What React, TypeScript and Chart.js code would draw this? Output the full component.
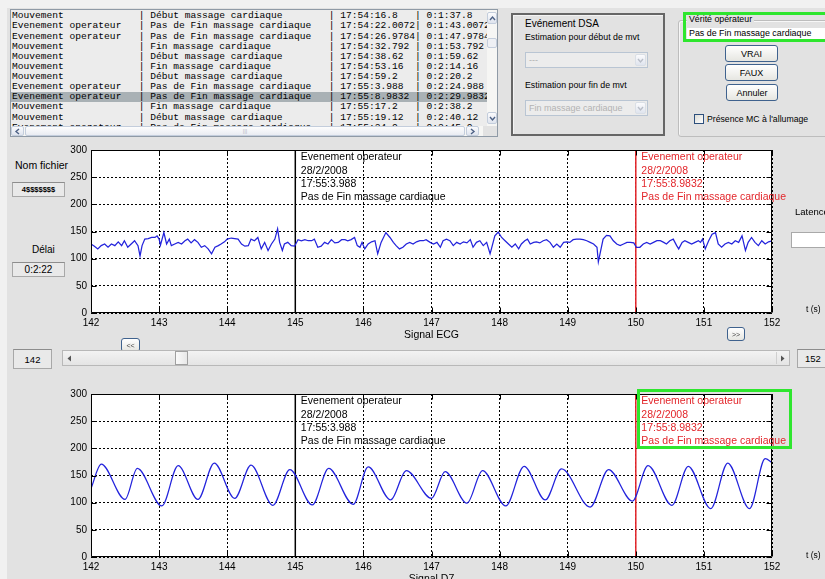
import React, { useEffect, useRef } from 'react';
import { Chart, registerables } from 'chart.js';

Chart.register(...registerables);

// ---------------- data ----------------
const ecgTimes = [
  142.0, 142.05, 142.1, 142.15, 142.2, 142.25, 142.3, 142.35, 142.4, 142.45, 142.49, 142.54, 142.59, 142.64, 142.69,
  142.72, 142.75, 142.79, 142.84, 142.89, 142.94, 142.97, 143.0, 143.02, 143.07, 143.11, 143.15, 143.18, 143.23,
  143.28, 143.33, 143.38, 143.42, 143.47, 143.52, 143.57, 143.62, 143.67, 143.72, 143.77, 143.82, 143.87, 143.91,
  143.96, 144.0, 144.06, 144.11, 144.16, 144.21, 144.26, 144.31, 144.35, 144.4, 144.45, 144.5, 144.55, 144.6, 144.65,
  144.7, 144.74, 144.77, 144.81, 144.84, 144.89, 144.94, 144.99, 145.04, 145.09, 145.14, 145.19, 145.24, 145.28,
  145.33, 145.38, 145.43, 145.48, 145.53, 145.58, 145.63, 145.68, 145.73, 145.77, 145.82, 145.87, 145.91, 145.95,
  145.98, 146.02, 146.07, 146.12, 146.17, 146.21, 146.26, 146.33, 146.39, 146.44, 146.48, 146.53, 146.58, 146.63,
  146.68, 146.73, 146.78, 146.83, 146.88, 146.92, 146.98, 147.03, 147.08, 147.13, 147.17, 147.22, 147.27, 147.32,
  147.37, 147.42, 147.47, 147.52, 147.57, 147.61, 147.66, 147.71, 147.76, 147.81, 147.86, 147.88, 147.93, 147.98,
  148.03, 148.08, 148.13, 148.18, 148.23, 148.28, 148.32, 148.37, 148.41, 148.45, 148.5, 148.54, 148.59, 148.64,
  148.69, 148.74, 148.79, 148.84, 148.89, 148.94, 148.99, 149.03, 149.08, 149.13, 149.18, 149.23, 149.28, 149.33,
  149.38, 149.43, 149.45, 149.48, 149.52, 149.57, 149.62, 149.67, 149.72, 149.77, 149.82, 149.87, 149.92, 149.97,
  150.01, 150.06, 150.11, 150.16, 150.21, 150.26, 150.31, 150.36, 150.41, 150.45, 150.5, 150.55, 150.6, 150.63,
  150.68, 150.72, 150.77, 150.82, 150.87, 150.92, 150.95, 150.98, 151.02, 151.07, 151.12, 151.17, 151.21, 151.26,
  151.31, 151.36, 151.41, 151.46, 151.51, 151.56, 151.61, 151.65, 151.7, 151.75, 151.8, 151.85, 151.9, 151.95, 152.0,
];
const ecgValues = [
  127, 123, 118, 124, 127, 121, 127, 124, 131, 124, 133, 121, 127, 133, 124,
  105, 124, 136, 137, 139, 139, 142, 136, 125, 148, 127, 136, 124, 127,
  130, 127, 133, 136, 129, 135, 130, 121, 124, 118, 109, 121, 124, 127,
  131, 136, 138, 137, 136, 127, 123, 124, 136, 133, 139, 118, 130, 115, 127,
  136, 155, 130, 115, 127, 130, 124, 123, 135, 133, 135, 133, 133, 136,
  121, 123, 130, 127, 135, 129, 130, 135, 135, 133, 135, 139, 124, 121,
  130, 118, 127, 131, 133, 109, 130, 148, 139, 130, 124, 118, 121, 127,
  130, 127, 131, 133, 133, 135, 130, 127, 130, 121, 133, 136, 133, 124,
  130, 127, 131, 129, 135, 121, 130, 133, 124, 130, 109, 118, 142, 149,
  139, 133, 127, 121, 127, 118, 127, 133, 136, 127, 130, 131, 129, 133,
  135, 130, 121, 127, 121, 130, 131, 130, 135, 136, 136, 135, 133, 130,
  127, 121, 94, 112, 136, 143, 142, 133, 127, 124, 127, 130, 130, 129,
  121, 121, 127, 130, 127, 130, 133, 133, 130, 127, 133, 136, 124, 118,
  130, 133, 130, 127, 130, 133, 130, 136, 118, 133, 145, 148, 127, 121,
  127, 130, 127, 133, 130, 142, 115, 130, 139, 130, 124, 133, 127, 131, 133,
];

const d7Times = [
  142.0, 142.15, 142.5, 142.68, 143.04, 143.28, 143.57, 143.81, 144.11, 144.35, 144.67, 144.92, 145.25, 145.49,
  145.85, 146.07, 146.4, 146.63, 147.0, 147.2, 147.52, 147.75, 148.09, 148.36, 148.67, 148.91, 149.33, 149.6,
  149.95, 150.18, 150.53, 150.77, 151.1, 151.35, 151.67, 151.9, 152.0,
];
const d7Values = [
  126, 171, 106, 163, 94, 168, 106, 173, 108, 169, 95, 161, 96, 163,
  97, 166, 105, 159, 108, 157, 99, 159, 94, 167, 105, 162, 92, 161,
  103, 168, 95, 167, 89, 173, 89, 181, 174,
];

const timeMin = 142;
const timeMax = 152;
const timeStep = 1;
const valueMin = 0;
const valueMax = 300;
const valueStep = 50;

const eventTimes = [145, 150];
const eventTypes = ['Evenement operateur', 'Evenement operateur'];
const eventDates = ['28/2/2008', '28/2/2008'];
const eventClocks = ['17:55:3.988', '17:55:8.9832'];
const eventNotes = ['Pas de Fin massage cardiaque', 'Pas de Fin massage cardiaque'];

const listTypes = [
  'Mouvement', 'Evenement operateur', 'Evenement operateur', 'Mouvement', 'Mouvement', 'Mouvement',
  'Mouvement', 'Evenement operateur', 'Evenement operateur', 'Mouvement', 'Mouvement', 'Evenement operateur',
];
const listLabels = [
  'Début massage cardiaque', 'Pas de Fin massage cardiaque', 'Pas de Fin massage cardiaque', 'Fin massage cardiaque',
  'Début massage cardiaque', 'Fin massage cardiaque', 'Début massage cardiaque', 'Pas de Fin massage cardiaque',
  'Pas de Fin massage cardiaque', 'Fin massage cardiaque', 'Début massage cardiaque', 'Pas de Fin massage cardiaque',
];
const listClocks = [
  '17:54:16.8', '17:54:22.0072', '17:54:26.9784', '17:54:32.792', '17:54:38.62', '17:54:53.16',
  '17:54:59.2', '17:55:3.988', '17:55:8.9832', '17:55:17.2', '17:55:19.12', '17:55:24.0',
];
const listDelays = [
  '0:1:37.8', '0:1:43.0072', '0:1:47.9784', '0:1:53.792', '0:1:59.62', '0:2:14.16',
  '0:2:20.2', '0:2:24.988', '0:2:29.9832', '0:2:38.2', '0:2:40.12', '0:2:45.0',
];
const selectedRow = 8;

// ---------------- styles ----------------
const SIGNAL_COLOR = '#2323dc';
const EVENT_COLORS = ['#000000', '#e3262b'];
const GREEN = '#2ee62e';
const PANEL_BG = '#e2e2e2';
const SANS = 'Arial, "Liberation Sans", sans-serif';

const matlabAxesPlugin = {
  id: 'matlabAxes',
  beforeDraw(chart: any) {
    const { ctx, chartArea: a } = chart;
    ctx.save();
    ctx.fillStyle = '#ffffff';
    ctx.fillRect(a.left, a.top, a.right - a.left, a.bottom - a.top);
    ctx.restore();
  },
  afterDatasetsDraw(chart: any) {
    const { ctx, chartArea: a, scales } = chart;
    const xs = scales.x;
    const ys = scales.y;
    ctx.save();
    ctx.strokeStyle = '#000';
    ctx.lineWidth = 1;
    const L = Math.round(a.left) + 0.5;
    const R = Math.round(a.right) - 0.5;
    const T = Math.round(a.top) + 0.5;
    const B = Math.round(a.bottom) - 0.5;
    ctx.beginPath();
    ctx.rect(L, T, R - L, B - T);
    xs.ticks.forEach((t: any) => {
      const px = Math.round(xs.getPixelForValue(t.value)) + 0.5;
      ctx.moveTo(px, B); ctx.lineTo(px, B - 5);
      ctx.moveTo(px, T); ctx.lineTo(px, T + 5);
    });
    ys.ticks.forEach((t: any) => {
      const py = Math.round(ys.getPixelForValue(t.value)) + 0.5;
      ctx.moveTo(L, py); ctx.lineTo(L + 5, py);
      ctx.moveTo(R, py); ctx.lineTo(R - 5, py);
    });
    ctx.stroke();

    ctx.font = '10.5px ' + SANS;
    ctx.textBaseline = 'middle';
    ctx.textAlign = 'left';
    eventTimes.forEach((t, i) => {
      const px = xs.getPixelForValue(t) + 5.5;
      ctx.fillStyle = EVENT_COLORS[i];
      [eventTypes[i], eventDates[i], eventClocks[i], eventNotes[i]].forEach((s, k) => {
        ctx.fillText(s, px, a.top + 7.5 + k * 13.3);
      });
    });
    ctx.restore();
  },
};

function buildChart(canvas: HTMLCanvasElement, times: number[], values: number[], title: string, smooth: boolean) {
  const signal = times.map((t, i) => ({ x: t, y: values[i] }));
  const datasets: any[] = [
    {
      data: signal,
      borderColor: SIGNAL_COLOR,
      borderWidth: 1.25,
      pointRadius: 0,
      fill: false,
      tension: 0,
      cubicInterpolationMode: smooth ? 'monotone' : 'default',
    },
    ...eventTimes.map((t, i) => ({
      data: [{ x: t, y: valueMin }, { x: t, y: valueMax }],
      borderColor: EVENT_COLORS[i],
      borderWidth: 1.5,
      pointRadius: 0,
      fill: false,
    })),
  ];
  const tickFont = { family: SANS, size: 10 };
  return new Chart(canvas, {
    type: 'line',
    data: { datasets },
    options: {
      animation: false,
      responsive: false,
      maintainAspectRatio: false,
      layout: { padding: { top: 9, right: 28, left: 0, bottom: 0 } },
      plugins: { legend: { display: false }, tooltip: { enabled: false }, title: { display: false } },
      scales: {
        x: {
          type: 'linear',
          min: timeMin,
          max: timeMax,
          ticks: { stepSize: timeStep, autoSkip: false, maxRotation: 0, padding: 4, color: '#000', font: tickFont },
          grid: { color: '#000000', lineWidth: 1, drawTicks: false },
          border: { display: false, dash: [2, 2] },
          title: { display: true, text: title, color: '#000', font: { family: SANS, size: 10.5 }, padding: { top: 0, bottom: 0 } },
          afterFit: (s: any) => { s.height = 28; },
        },
        y: {
          type: 'linear',
          min: valueMin,
          max: valueMax,
          ticks: { stepSize: valueStep, padding: 4, color: '#000', font: tickFont },
          grid: { color: '#000000', lineWidth: 1, drawTicks: false },
          border: { display: false, dash: [2, 2] },
          afterFit: (s: any) => { s.width = 51; },
        },
      },
    } as any,
    plugins: [matlabAxesPlugin],
  });
}

// ---------------- small UI helpers ----------------
const Chevron = ({ dir, color = '#4d6185', size = 7 }: any) => {
  const pts: any = { up: '1,5 3.5,2 6,5', down: '1,2 3.5,5 6,2', left: '5,1 2,3.5 5,6', right: '2,1 5,3.5 2,6' };
  return (
    <svg width={size} height={size} viewBox="0 0 7 7" style={{ display: 'block' }}>
      <polyline points={pts[dir]} fill="none" stroke={color} strokeWidth={1.4} />
    </svg>
  );
};

const Tri = ({ dir }: any) => (
  <svg width={5} height={7} viewBox="0 0 5 7" style={{ display: 'block' }}>
    <polygon points={dir === 'left' ? '4,0.5 0.5,3.5 4,6.5' : '1,0.5 4.5,3.5 1,6.5'} fill="#555" />
  </svg>
);

const Box = ({ l, t, w, h, style, children }: any) => (
  <div style={{ position: 'absolute', left: l, top: t, width: w, height: h, boxSizing: 'border-box', ...style }}>{children}</div>
);

const center: any = { display: 'flex', alignItems: 'center', justifyContent: 'center' };

const Label = ({ x, cy, size, color = '#000', children, weight }: any) => (
  <div
    style={{
      position: 'absolute', left: x, top: cy - size * 0.6, lineHeight: size * 1.2 + 'px', fontSize: size,
      fontFamily: SANS, color, whiteSpace: 'nowrap', fontWeight: weight,
    }}
  >
    {children}
  </div>
);

const btnStyle: any = {
  border: '1px solid #3f628e', borderRadius: 3, background: 'linear-gradient(#ffffff, #e6e6e1)',
  fontFamily: SANS, fontSize: 9, color: '#000', ...center,
};

const fieldStyle: any = {
  border: '1px solid #a8a8a8', borderTopColor: '#8d8d8d', background: '#e9e9e9', fontFamily: SANS, color: '#000', ...center,
};

const arrowBtn: any = {
  position: 'absolute', boxSizing: 'border-box', border: '1px solid #c3cddc', borderRadius: 2,
  background: 'linear-gradient(#fbfbfd, #dfe4ee)', ...center,
};

function rowText(i: number) {
  return listTypes[i].padEnd(22) + '| ' + listLabels[i].padEnd(31) + '| ' + listClocks[i].padEnd(13) + '| ' + listDelays[i];
}

export default function App() {
  const topRef = useRef<HTMLCanvasElement>(null);
  const botRef = useRef<HTMLCanvasElement>(null);

  useEffect(() => {
    const c1 = buildChart(topRef.current as HTMLCanvasElement, ecgTimes, ecgValues, 'Signal ECG', false);
    const c2 = buildChart(botRef.current as HTMLCanvasElement, d7Times, d7Values, 'Signal D7', true);
    return () => { c1.destroy(); c2.destroy(); };
  }, []);

  return (
    <div style={{ position: 'fixed', left: 0, top: 0, width: 825, height: 579, overflow: 'hidden', background: '#f1f1f1', fontFamily: SANS }}>
      <div style={{ position: 'absolute', left: 7, top: 8, right: 0, bottom: 0, background: PANEL_BG }} />

      {/* ---- event list ---- */}
      <Box l={10} t={9} w={488} h={128} style={{ border: '1px solid #8f9aa6', background: '#ececec', overflow: 'hidden' }}>
        <div style={{ position: 'absolute', left: 0, top: 1.3, width: 476, height: 115, overflow: 'hidden' }}>
          {listTypes.map((_, i) => (
            <div
              key={i}
              style={{
                height: 10.14, lineHeight: '10.14px', paddingLeft: 1, background: i === selectedRow ? '#a9b1b5' : 'transparent',
                fontFamily: '"Liberation Mono", "Courier New", monospace', fontSize: 9.6, whiteSpace: 'pre', color: '#000',
              }}
            >
              {rowText(i)}
            </div>
          ))}
        </div>
        {/* vertical scrollbar */}
        <div style={{ position: 'absolute', left: 476, top: 0, width: 10, height: 116, background: '#f6f6f4' }}>
          <div style={{ ...arrowBtn, left: 0, top: 2, width: 10, height: 12 }}><Chevron dir="up" /></div>
          <div style={{ ...arrowBtn, left: 0, top: 28, width: 10, height: 10, background: '#eef0f4' }} />
          <div style={{ ...arrowBtn, left: 0, top: 102, width: 10, height: 12 }}><Chevron dir="down" /></div>
        </div>
        {/* horizontal scrollbar */}
        <div style={{ position: 'absolute', left: 0, top: 116, width: 486, height: 10, background: '#f6f6f4' }}>
          <div style={{ ...arrowBtn, left: 0, top: 0, width: 13, height: 10 }}><Chevron dir="left" /></div>
          <div style={{ ...arrowBtn, left: 14, top: 0, width: 440, height: 10, background: 'linear-gradient(#fdfdfd, #e9ecf2)' }}>
            <div style={{ fontSize: 6, color: '#b4b9c4', letterSpacing: 0 }}>|||</div>
          </div>
          <div style={{ ...arrowBtn, left: 455, top: 0, width: 13, height: 10 }}><Chevron dir="right" /></div>
          <div style={{ position: 'absolute', left: 472, top: 0, width: 14, height: 10, background: PANEL_BG }} />
        </div>
      </Box>

      {/* ---- DSA panel ---- */}
      <Box l={511} t={13} w={154} h={123} style={{ border: '2px solid #666', boxShadow: 'inset 1px 1px 0 #f4f4f4' }} />
      <Label x={525} cy={24} size={10}>Evénement DSA</Label>
      <Label x={525} cy={37.5} size={8.8}>Estimation pour début de mvt</Label>
      <Box l={525} t={52} w={123} h={16} style={{ border: '1px solid #b9c5d3', background: '#ececec' }}>
        <div style={{ position: 'absolute', left: 3, top: 2, fontSize: 9, color: '#b0b0b0', fontFamily: SANS }}>---</div>
        <div style={{ ...arrowBtn, right: 1, top: 1, width: 11, height: 12, border: '1px solid #dadfe6' }}><Chevron dir="down" color="#b9bec8" /></div>
      </Box>
      <Label x={525} cy={85} size={8.8}>Estimation pour fin de mvt</Label>
      <Box l={525} t={100} w={123} h={16} style={{ border: '1px solid #b9c5d3', background: '#ececec' }}>
        <div style={{ position: 'absolute', left: 3, top: 2, fontSize: 9, color: '#b3b3b3', fontFamily: SANS, whiteSpace: 'nowrap' }}>Fin massage cardiaque</div>
        <div style={{ ...arrowBtn, right: 1, top: 1, width: 11, height: 12, border: '1px solid #dadfe6' }}><Chevron dir="down" color="#b9bec8" /></div>
      </Box>

      {/* ---- Vérité opérateur group ---- */}
      <Box l={678} t={20} w={160} h={117} style={{ border: '1px solid #bdbdbd', borderRadius: 3, boxShadow: '1px 1px 0 #f7f7f7 inset' }} />
      <div style={{ position: 'absolute', left: 687, top: 13, height: 12, padding: '0 2px', background: PANEL_BG, fontSize: 8.8, lineHeight: '12px', fontFamily: SANS, whiteSpace: 'nowrap' }}>Vérité opérateur</div>
      <Box l={687} t={28} w={145} h={11} style={{ background: '#ffffff' }}>
        <div style={{ position: 'absolute', left: 2, top: 0, fontSize: 8.9, lineHeight: '11px', fontFamily: SANS, whiteSpace: 'nowrap' }}>Pas de Fin massage cardiaque</div>
      </Box>
      <Box l={683} t={12} w={150} h={30} style={{ border: '3px solid ' + GREEN }} />
      <Box l={725} t={45} w={53} h={17} style={btnStyle}>VRAI</Box>
      <Box l={725} t={64} w={53} h={17} style={btnStyle}>FAUX</Box>
      <Box l={726} t={84} w={52} h={17} style={btnStyle}>Annuler</Box>
      <Box l={694} t={114} w={10} h={10} style={{ border: '1px solid #2c4f7c', background: 'linear-gradient(135deg, #dcdcd6, #ffffff)' }} />
      <Label x={707} cy={119} size={8.7}>Présence MC à l'allumage</Label>

      {/* ---- left info ---- */}
      <Label x={15} cy={165} size={10.5}>Nom fichier</Label>
      <Box l={12} t={182} w={53} h={15} style={{ ...fieldStyle, fontSize: 7.5, fontWeight: 600 }}>4$$$$$$$</Box>
      <Label x={32} cy={250} size={10}>Délai</Label>
      <Box l={12} t={262} w={53} h={15} style={{ ...fieldStyle, fontSize: 10 }}>0:2:22</Box>

      {/* ---- charts ---- */}
      <canvas ref={topRef} width={760} height={201} style={{ position: 'absolute', left: 40, top: 140, width: 760, height: 201 }} />
      <canvas ref={botRef} width={760} height={201} style={{ position: 'absolute', left: 40, top: 384, width: 760, height: 201 }} />

      {/* ---- right side labels ---- */}
      <Label x={795} cy={212} size={9.5}>Latence</Label>
      <Box l={791} t={232} w={40} h={16} style={{ border: '1px solid #a9a9a9', background: '#ffffff' }} />
      <Label x={806} cy={309} size={8.5}>t (s)</Label>
      <Label x={806} cy={555} size={8.5}>t (s)</Label>

      {/* ---- navigation ---- */}
      <Box l={121} t={338} w={19} h={14} style={{ ...btnStyle, fontSize: 7, color: '#444' }}>&lt;&lt;</Box>
      <Box l={727} t={327} w={18} h={14} style={{ ...btnStyle, fontSize: 7, color: '#444' }}>&gt;&gt;</Box>

      <Box l={13} t={349} w={39} h={20} style={{ ...fieldStyle, fontSize: 9.5 }}>142</Box>
      <Box l={62} t={350} w={728} h={16} style={{ border: '1px solid #b8b8b8', background: 'linear-gradient(#f3f3f3, #e4e4e4)' }}>
        <div style={{ position: 'absolute', left: 1, top: 1, width: 11, height: 12, ...center }}><Tri dir="left" /></div>
        <div style={{ position: 'absolute', left: 112, top: 0, width: 13, height: 14, boxSizing: 'border-box', border: '1px solid #a0a0a0', background: 'linear-gradient(90deg, #fafafa, #e8e8e8)' }} />
        <div style={{ position: 'absolute', right: 1, top: 1, width: 11, height: 12, borderLeft: '1px solid #cfcfcf', ...center }}><Tri dir="right" /></div>
      </Box>
      <Box l={797} t={349} w={40} h={19} style={{ ...fieldStyle, fontSize: 9.5, justifyContent: 'flex-start', paddingLeft: 7 }}>152</Box>

      {/* ---- highlight around bottom annotation ---- */}
      <Box l={637} t={389} w={155} h={60} style={{ border: '3px solid ' + GREEN }} />
    </div>
  );
}
